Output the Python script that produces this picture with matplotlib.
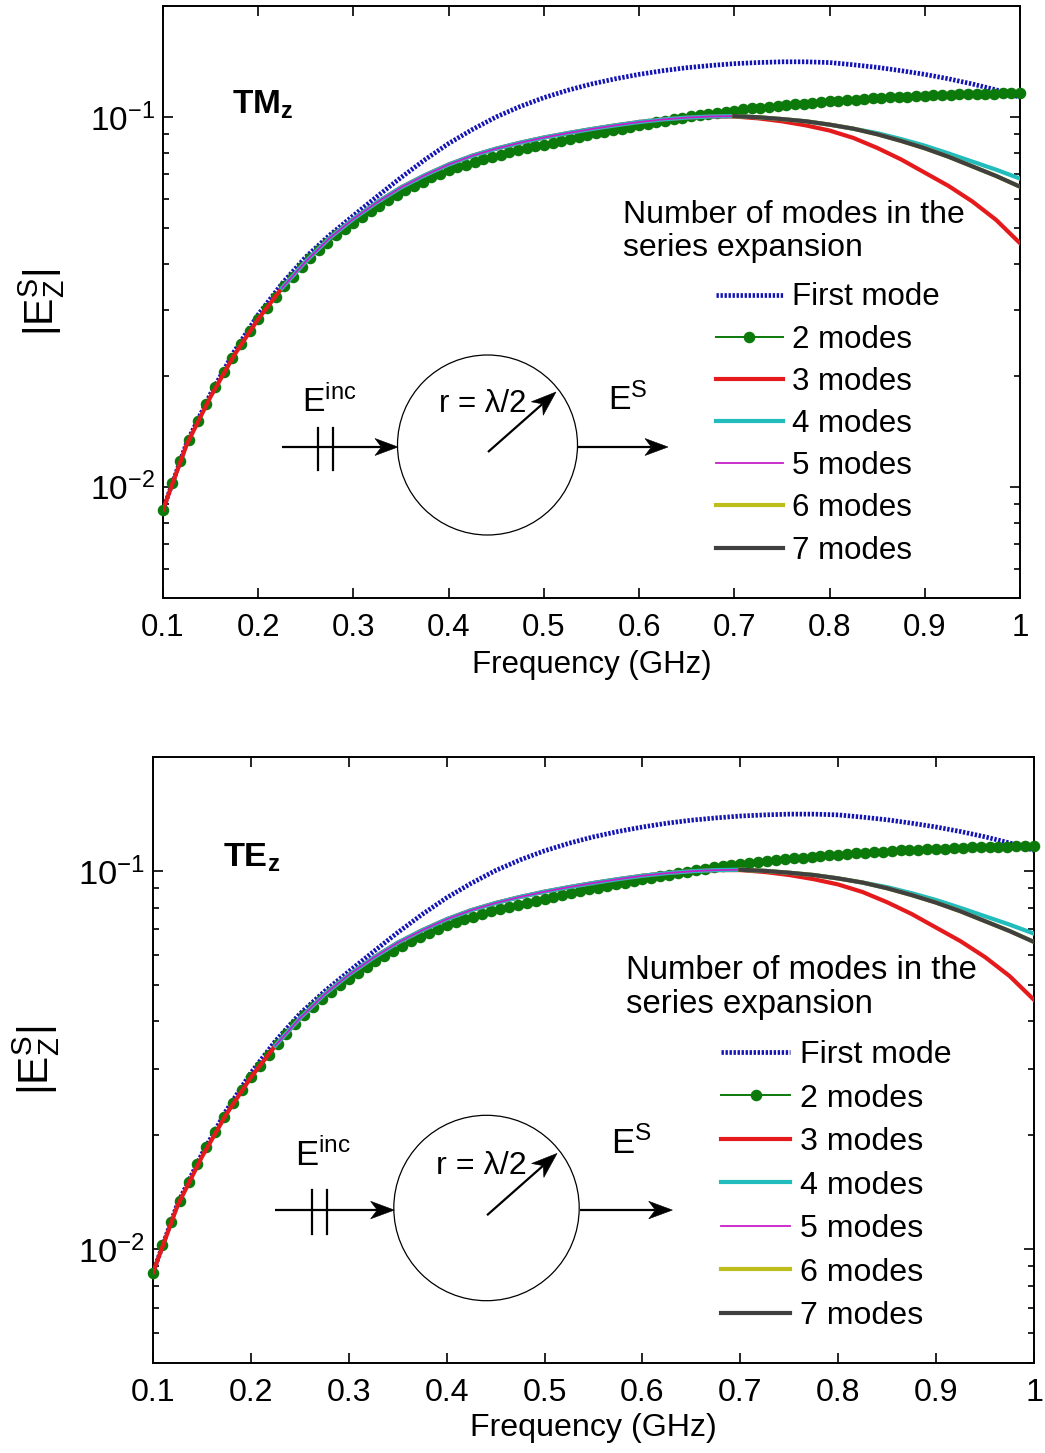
import numpy as np
import matplotlib
matplotlib.use("Agg")
import matplotlib.pyplot as plt
from matplotlib.patches import Circle, Polygon
from matplotlib.ticker import FixedLocator, FixedFormatter, NullFormatter, LogLocator

plt.rcParams['font.family'] = ['Liberation Sans', 'DejaVu Sans']
plt.rcParams['mathtext.fontset'] = 'custom'
plt.rcParams['mathtext.rm'] = 'Liberation Sans'
plt.rcParams['mathtext.it'] = 'Liberation Sans:italic'
plt.rcParams['mathtext.bf'] = 'Liberation Sans:bold'

# ---------------- data (log10 of |E_z^s|) ----------------
freq_lines = np.linspace(0.1, 1.0, 37)          # 0.025 GHz sampling of the solid/dotted curves
freq_2modes = np.linspace(0.1, 1.0, 100)        # sampling of the marked "2 modes" curve

first_mode_log = [-2.062, -1.880, -1.748, -1.633, -1.534, -1.450, -1.378, -1.319, -1.266,
                  -1.214, -1.163, -1.115, -1.071, -1.033, -0.999, -0.971, -0.947, -0.927,
                  -0.910, -0.896, -0.884, -0.874, -0.866, -0.860, -0.855, -0.852, -0.850,
                  -0.850, -0.852, -0.858, -0.865, -0.874, -0.884, -0.896, -0.910, -0.926,
                  -0.946]

modes2_log = [-2.062, -1.990, -1.929, -1.874, -1.822, -1.775, -1.731, -1.690, -1.651, -1.614,
              -1.579, -1.546, -1.515, -1.486, -1.458, -1.431, -1.405, -1.382, -1.360, -1.339,
              -1.320, -1.302, -1.285, -1.269, -1.254, -1.239, -1.225, -1.211, -1.198, -1.186,
              -1.174, -1.163, -1.153, -1.144, -1.136, -1.128, -1.121, -1.114, -1.107, -1.101,
              -1.095, -1.089, -1.084, -1.079, -1.074, -1.069, -1.064, -1.059, -1.054, -1.049,
              -1.044, -1.040, -1.035, -1.031, -1.026, -1.022, -1.018, -1.014, -1.010, -1.006,
              -1.002, -0.998, -0.995, -0.991, -0.988, -0.985, -0.982, -0.979, -0.976, -0.974,
              -0.971, -0.969, -0.967, -0.965, -0.963, -0.961, -0.959, -0.957, -0.955, -0.954,
              -0.952, -0.951, -0.949, -0.948, -0.946, -0.945, -0.944, -0.943, -0.942, -0.941,
              -0.940, -0.939, -0.938, -0.938, -0.937, -0.936, -0.936, -0.935, -0.935, -0.935]

modes3_log = [-2.062, -1.885, -1.756, -1.643, -1.546, -1.462, -1.390, -1.327, -1.275,
              -1.230, -1.190, -1.157, -1.128, -1.104, -1.085, -1.069, -1.055, -1.043,
              -1.032, -1.022, -1.013, -1.006, -1.001, -0.998, -0.998, -1.003, -1.011,
              -1.022, -1.036, -1.056, -1.083, -1.114, -1.150, -1.186, -1.228, -1.278,
              -1.341]

# 4 modes: from 0.225 GHz to 1 GHz
modes4_log = [-1.462, -1.390, -1.327, -1.275, -1.230, -1.190, -1.157, -1.128, -1.104,
              -1.085, -1.069, -1.055, -1.043, -1.032, -1.022, -1.013, -1.006, -1.001,
              -0.998, -0.997, -1.000, -1.005, -1.011, -1.020, -1.031, -1.043, -1.059,
              -1.077, -1.098, -1.120, -1.142, -1.166]

# 5 modes: from 0.225 GHz to 0.725 GHz
modes5_log = [-1.462, -1.390, -1.327, -1.275, -1.230, -1.190, -1.157, -1.128, -1.104,
              -1.085, -1.069, -1.055, -1.043, -1.032, -1.022, -1.013, -1.006, -1.001,
              -0.998, -0.997, -1.000]

# 6 and 7 modes: from 0.7 GHz to 1 GHz
modes6_log = [-0.997, -1.000, -1.005, -1.011, -1.020, -1.031, -1.046, -1.064, -1.084,
              -1.107, -1.133, -1.159, -1.188]
modes7_log = [-0.997, -1.000, -1.005, -1.011, -1.020, -1.031, -1.046, -1.064, -1.084,
              -1.107, -1.133, -1.159, -1.188]

series_labels = ['First mode', '2 modes', '3 modes', '4 modes', '5 modes', '6 modes', '7 modes']
xtick_values = [0.1, 0.2, 0.3, 0.4, 0.5, 0.6, 0.7, 0.8, 0.9, 1.0]
xtick_labels = ['0.1', '0.2', '0.3', '0.4', '0.5', '0.6', '0.7', '0.8', '0.9', '1']
panel_titles = [r'$\mathbf{TM_z}$', r'$\mathbf{TE_z}$']

BLUE = '#1414b4'
GREEN = '#0b7a0b'
RED = '#e41a1c'
CYAN = '#22bcbc'
MAGENTA = '#c81ec8'
YELLOW = '#bdbd1c'
GREY = '#404040'

W, H = 1045, 1453
fig = plt.figure(figsize=(W / 100, H / 100), dpi=100)

# axes boxes in pixels: left, top, right, bottom
boxes = [(163, 6, 1020, 598), (153, 757, 1034, 1363)]
ylabel_x = [-0.112, -0.103]
xlabel_y = [-0.088, -0.082]
legend_spacing = [0.39, 0.42]


def px_axes(box):
    l, t, r, b = box
    return fig.add_axes([l / W, 1 - b / H, (r - l) / W, (b - t) / H])


def draw_panel(ax, title, s, ylx, xly, lsp):
    fl = freq_lines
    hs = []
    hs += ax.semilogy(fl, 10 ** np.array(first_mode_log), color=BLUE, lw=3.4,
                      linestyle=(0, (0.5, 0.35)), dash_capstyle='butt')
    hs += ax.semilogy(freq_2modes, 10 ** np.array(modes2_log), color=GREEN, lw=1.4,
                      marker='o', ms=7.3, mfc=GREEN, mec=GREEN, clip_on=False, zorder=3)
    hs += ax.semilogy(fl, 10 ** np.array(modes3_log), color=RED, lw=3.0, zorder=4)
    hs += ax.semilogy(fl[5:], 10 ** np.array(modes4_log), color=CYAN, lw=3.0, zorder=5)
    hs += ax.semilogy(fl[5:26], 10 ** np.array(modes5_log), color=MAGENTA, lw=1.3, zorder=6)
    hs += ax.semilogy(fl[24:], 10 ** np.array(modes6_log), color=YELLOW, lw=3.0, zorder=7)
    hs += ax.semilogy(fl[24:], 10 ** np.array(modes7_log), color=GREY, lw=3.0, zorder=8)

    ax.set_xlim(0.1, 1.0)
    ax.set_ylim(0.005, 0.2)
    ax.xaxis.set_major_locator(FixedLocator(xtick_values))
    ax.xaxis.set_major_formatter(FixedFormatter(xtick_labels))
    ax.yaxis.set_major_locator(LogLocator(base=10))
    ax.yaxis.set_minor_locator(LogLocator(base=10, subs=np.arange(2, 10)))
    ax.yaxis.set_minor_formatter(NullFormatter())
    ax.tick_params(which='both', direction='in', top=True, right=True, width=1.2)
    ax.tick_params(which='major', length=7.2)
    ax.tick_params(which='minor', length=4.3)
    ax.tick_params(axis='x', labelsize=22.5 * s, pad=11)
    ax.tick_params(axis='y', labelsize=24 * s, pad=6)
    for sp in ax.spines.values():
        sp.set_linewidth(1.4)

    ax.set_xlabel('Frequency (GHz)', fontsize=22.5 * s)
    ax.xaxis.set_label_coords(0.5, xly)
    ax.set_ylabel(r'$\mathregular{|E_Z^S|}$', fontsize=29.5 * s)
    ax.yaxis.set_label_coords(ylx, 0.5)

    ax.text(0.08, 0.819, title, transform=ax.transAxes, fontsize=24 * s,
            ha='left', va='baseline')

    ax.text(0.537, 0.578, 'Number of modes in the\nseries expansion', transform=ax.transAxes,
            fontsize=23 * s, ha='left', va='baseline', linespacing=1.13)

    ax.legend(hs, series_labels, loc='upper left', bbox_to_anchor=(0.645, 0.533),
              frameon=False, fontsize=22.5 * s, handlelength=2.14, handletextpad=0.3,
              labelspacing=lsp, borderpad=0, borderaxespad=0)


ax1 = px_axes(boxes[0])
draw_panel(ax1, panel_titles[0], 1.0, ylabel_x[0], xlabel_y[0], legend_spacing[0])
ax2 = px_axes(boxes[1])
draw_panel(ax2, panel_titles[1], 1.03, ylabel_x[1], xlabel_y[1], legend_spacing[1])

# ---------------- inset sketches (pixel overlay) ----------------
ov = fig.add_axes([0, 0, 1, 1], zorder=20)
ov.set_xlim(0, W)
ov.set_ylim(H, 0)
ov.axis('off')


def arrow(x0, y0, x1, y1, s, lw=1.6, hl=23, hw=17):
    d = np.array([x1 - x0, y1 - y0], float)
    u = d / np.hypot(*d)
    p = np.array([-u[1], u[0]])
    tip = np.array([x1, y1], float)
    base = tip - u * hl * s
    notch = tip - u * hl * s * 0.72
    ov.plot([x0, notch[0]], [y0, notch[1]], color='k', lw=lw, solid_capstyle='butt')
    ov.add_patch(Polygon([tip, base + p * hw * s / 2, notch, base - p * hw * s / 2],
                         closed=True, fc='k', ec='k', lw=0.4))


def sketch(cx, cy, s, fs, dy_inc=0.0, dy_s=0.0):
    ov.add_patch(Circle((cx, cy), 90 * s, fill=False, ec='k', lw=0.9))
    arrow(cx - 205.5 * s, cy + 2 * s, cx - 89.5 * s, cy + 2 * s, s)
    for bx in (-169.5, -154.5):
        ov.plot([cx + bx * s] * 2, [cy - 17 * s, cy + 25 * s], color='k', lw=1.6)
    arrow(cx + 0.5 * s, cy + 7 * s, cx + 68.5 * s, cy - 53 * s, s, hl=25, hw=18)
    arrow(cx + 90.5 * s, cy + 2 * s, cx + 180.5 * s, cy + 2 * s, s)
    ov.text(cx - 185.5 * s, cy - 33 * s + dy_inc, r'$\mathregular{E^{inc}}$',
            fontsize=fs * 1.08, ha='left', va='baseline')
    ov.text(cx - 4.5 * s, cy - 33 * s, 'r = λ/2', fontsize=fs, ha='center', va='baseline')
    ov.text(cx + 120.5 * s, cy - 35 * s + dy_s, r'$\mathregular{E^{S}}$',
            fontsize=fs * 1.08, ha='left', va='baseline')


sketch(487.5, 445, 1.0, 22.5)
sketch(486.5, 1208, 1.03, 23.2, dy_inc=-8, dy_s=-18)

fig.savefig('out.png', dpi=100)
